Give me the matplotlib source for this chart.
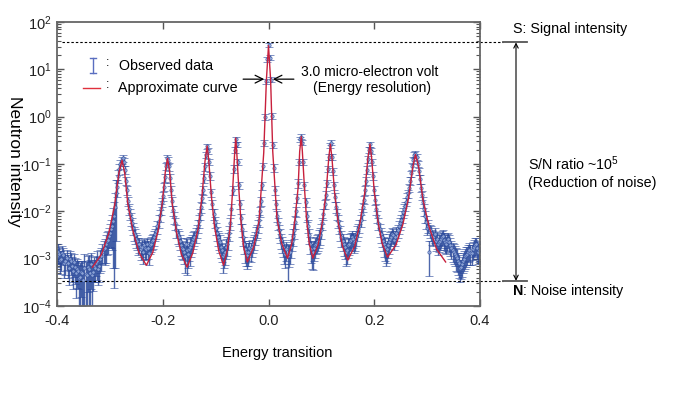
import numpy as np
import matplotlib
matplotlib.use("Agg")
import matplotlib.pyplot as plt
from matplotlib.lines import Line2D
from matplotlib.transforms import blended_transform_factory

# -----------------------------------------------------------
# Fonts / style
# -----------------------------------------------------------
plt.rcParams['font.family'] = ['Liberation Sans', 'DejaVu Sans']
plt.rcParams['mathtext.fontset'] = 'custom'
plt.rcParams['mathtext.rm'] = 'Liberation Sans'
plt.rcParams['mathtext.it'] = 'Liberation Sans:italic'
plt.rcParams['mathtext.bf'] = 'Liberation Sans:bold'
plt.rcParams['axes.unicode_minus'] = False

W, H = 682, 394

# -----------------------------------------------------------
# Data
# -----------------------------------------------------------
# energy grid of the measured spectrum (step 0.002)
energy = np.round(np.arange(-0.400, 0.4001, 0.002), 3)

# log10(neutron intensity) of observed points, 10 per row
obs_log = [
    -2.95, -2.85, -2.90, -3.02, -3.00, -2.88, -2.92, -3.10, -3.05, -2.98,
    -3.10, -3.20, -3.00, -3.05, -3.15, -3.25, -3.08, -3.18, -3.30, -3.22,
    -3.25, -3.40, -3.38, -3.28, -3.30, -3.45, -3.20, -3.32, -3.35, -3.18,
    -3.22, -3.30, -3.12, -3.35, -3.28, -3.15, -3.20, -3.10, -3.05, -3.22,
    -3.15, -3.00, -2.95, -2.85, -2.80, -2.78, -2.70, -2.62, -2.60, -2.52,
    -2.45, -2.38, -2.30, -2.20, -2.10, -1.90, -1.62, -1.48, -1.25, -1.10,
    -1.00, -0.92, -0.88, -0.95, -1.12, -1.35, -1.55, -1.78, -1.95, -2.05,
    -2.15, -2.25, -2.35, -2.45, -2.50, -2.58, -2.62, -2.70, -2.70, -2.80,
    -2.75, -2.85, -2.72, -2.78, -2.80, -2.70, -2.78, -2.88, -2.72, -2.68,
    -2.62, -2.60, -2.55, -2.48, -2.42, -2.32, -2.20, -2.08, -1.95, -1.80,
    -1.68, -1.48, -1.28, -1.05, -0.88, -0.92, -1.05, -1.30, -1.55, -1.78,
    -1.98, -2.12, -2.25, -2.40, -2.50, -2.55, -2.62, -2.72, -2.78, -2.80,
    -2.85, -2.95, -2.70, -2.82, -2.90, -2.80, -2.75, -2.70, -2.65, -2.58,
    -2.55, -2.48, -2.40, -2.30, -2.20, -2.05, -1.90, -1.72, -1.55, -1.30,
    -1.05, -0.80, -0.62, -0.72, -0.95, -1.25, -1.60, -1.85, -2.05, -2.22,
    -2.35, -2.45, -2.55, -2.60, -2.65, -2.75, -2.82, -2.95, -2.90, -2.85,
    -2.75, -2.70, -2.60, -2.45, -2.25, -1.95, -1.55, -1.10, -0.70, -0.48,
    -0.58, -0.95, -1.45, -1.85, -2.15, -2.38, -2.55, -2.68, -2.80, -2.85,
    -2.92, -2.85, -2.78, -2.82, -2.75, -2.68, -2.62, -2.55, -2.45, -2.40,
    -2.30, -2.18, -2.00, -1.78, -1.45, -1.05, -0.55, 0.00, 0.75, 1.22,
    1.52, 1.25, 0.78, 0.02, -0.60, -1.08, -1.55, -1.85, -2.10, -2.25,
    -2.40, -2.50, -2.60, -2.68, -2.75, -2.85, -2.90, -2.80, -2.95, -2.88,
    -2.85, -2.75, -2.62, -2.52, -2.40, -2.22, -2.00, -1.72, -1.40, -0.95,
    -0.48, -0.42, -0.55, -0.95, -1.45, -1.80, -2.10, -2.30, -2.50, -2.68,
    -2.80, -2.88, -2.85, -2.78, -2.72, -2.68, -2.65, -2.62, -2.55, -2.50,
    -2.40, -2.25, -2.05, -1.85, -1.65, -1.40, -1.10, -0.85, -0.60, -0.55,
    -0.85, -1.15, -1.45, -1.70, -1.90, -2.05, -2.20, -2.32, -2.45, -2.55,
    -2.62, -2.70, -2.75, -2.85, -2.82, -2.72, -2.70, -2.62, -2.60, -2.55,
    -2.58, -2.65, -2.62, -2.55, -2.45, -2.38, -2.30, -2.18, -2.05, -1.90,
    -1.75, -1.55, -1.35, -1.12, -0.90, -0.70, -0.58, -0.72, -0.95, -1.25,
    -1.55, -1.75, -1.95, -2.10, -2.25, -2.38, -2.48, -2.55, -2.62, -2.70,
    -2.75, -2.85, -2.80, -2.72, -2.65, -2.58, -2.55, -2.48, -2.50, -2.60,
    -2.55, -2.45, -2.40, -2.32, -2.25, -2.18, -2.10, -2.02, -1.95, -1.88,
    -1.80, -1.70, -1.62, -1.50, -1.35, -1.20, -1.05, -0.92, -0.80, -0.78,
    -0.85, -1.00, -1.15, -1.32, -1.50, -1.65, -1.80, -1.95, -2.10, -2.22,
    -2.35, -2.30, -2.85, -2.40, -2.45, -2.52, -2.55, -2.48, -2.62, -2.58,
    -2.70, -2.65, -2.62, -2.58, -2.55, -2.52, -2.60, -2.65, -2.68, -2.62,
    -2.58, -2.65, -2.72, -2.78, -2.82, -2.85, -2.90, -2.95, -2.98, -3.05,
    -3.10, -3.20, -3.18, -3.12, -3.05, -3.00, -2.95, -2.92, -2.90, -2.85,
    -2.82, -2.88, -2.88, -2.80, -2.75, -2.72, -2.70, -2.78, -2.85, -2.82,
    -2.80,
]

# relative (linear) error of each observed point
obs_rel_err = [
    0.40, 0.45, 0.40, 0.50, 0.45, 0.40, 0.40, 0.50, 0.50, 0.45,
    0.50, 0.55, 0.45, 0.50, 0.55, 0.60, 0.50, 0.55, 0.70, 0.60,
    0.60, 0.85, 0.90, 0.70, 0.80, 0.97, 0.95, 0.80, 0.97, 0.70,
    0.95, 0.85, 0.70, 0.97, 0.60, 0.55, 0.50, 0.45, 0.60, 0.55,
    0.55, 0.50, 0.50, 0.45, 0.50, 0.55, 0.60, 0.50, 0.50, 0.45,
    0.50, 0.60, 0.70, 0.90, 0.97, 0.95, 0.90, 0.40, 0.30, 0.25,
    0.20, 0.18, 0.15, 0.18, 0.20, 0.20, 0.20, 0.22, 0.25, 0.28,
    0.30, 0.30, 0.30, 0.32, 0.35, 0.35, 0.35, 0.40, 0.35, 0.40,
    0.40, 0.45, 0.35, 0.40, 0.40, 0.35, 0.40, 0.45, 0.35, 0.35,
    0.35, 0.35, 0.35, 0.30, 0.30, 0.30, 0.30, 0.28, 0.25, 0.22,
    0.20, 0.20, 0.20, 0.18, 0.15, 0.15, 0.20, 0.20, 0.20, 0.22,
    0.25, 0.28, 0.30, 0.32, 0.35, 0.35, 0.35, 0.40, 0.40, 0.42,
    0.45, 0.55, 0.40, 0.70, 0.50, 0.45, 0.60, 0.45, 0.40, 0.38,
    0.35, 0.35, 0.30, 0.30, 0.30, 0.28, 0.25, 0.22, 0.20, 0.20,
    0.20, 0.15, 0.12, 0.14, 0.15, 0.18, 0.20, 0.22, 0.25, 0.28,
    0.30, 0.32, 0.35, 0.38, 0.40, 0.42, 0.45, 0.55, 0.50, 0.48,
    0.45, 0.42, 0.40, 0.35, 0.30, 0.25, 0.20, 0.18, 0.15, 0.12,
    0.12, 0.15, 0.15, 0.20, 0.25, 0.30, 0.35, 0.40, 0.50, 0.50,
    0.50, 0.50, 0.45, 0.45, 0.40, 0.38, 0.35, 0.32, 0.30, 0.30,
    0.30, 0.28, 0.25, 0.22, 0.20, 0.18, 0.15, 0.14, 0.12, 0.12,
    0.10, 0.12, 0.12, 0.14, 0.15, 0.18, 0.20, 0.22, 0.25, 0.28,
    0.30, 0.32, 0.35, 0.38, 0.40, 0.45, 0.50, 0.45, 0.70, 0.50,
    0.45, 0.42, 0.40, 0.38, 0.35, 0.30, 0.25, 0.22, 0.20, 0.15,
    0.12, 0.12, 0.12, 0.15, 0.20, 0.22, 0.25, 0.30, 0.35, 0.40,
    0.50, 0.55, 0.60, 0.45, 0.45, 0.40, 0.40, 0.40, 0.40, 0.38,
    0.35, 0.30, 0.25, 0.22, 0.20, 0.18, 0.15, 0.15, 0.12, 0.12,
    0.15, 0.18, 0.20, 0.22, 0.25, 0.28, 0.30, 0.32, 0.35, 0.38,
    0.40, 0.42, 0.45, 0.50, 0.50, 0.45, 0.40, 0.40, 0.40, 0.38,
    0.35, 0.40, 0.40, 0.35, 0.35, 0.32, 0.30, 0.28, 0.25, 0.22,
    0.20, 0.20, 0.20, 0.18, 0.15, 0.15, 0.12, 0.14, 0.15, 0.18,
    0.20, 0.22, 0.25, 0.28, 0.30, 0.32, 0.35, 0.38, 0.40, 0.45,
    0.50, 0.50, 0.50, 0.45, 0.45, 0.40, 0.35, 0.35, 0.35, 0.40,
    0.35, 0.32, 0.30, 0.30, 0.30, 0.28, 0.28, 0.25, 0.25, 0.22,
    0.20, 0.20, 0.20, 0.18, 0.18, 0.15, 0.15, 0.15, 0.15, 0.15,
    0.15, 0.15, 0.18, 0.20, 0.20, 0.22, 0.25, 0.28, 0.30, 0.30,
    0.30, 0.30, 0.70, 0.32, 0.35, 0.35, 0.35, 0.35, 0.40, 0.38,
    0.40, 0.38, 0.35, 0.35, 0.35, 0.35, 0.38, 0.40, 0.40, 0.38,
    0.35, 0.38, 0.40, 0.42, 0.45, 0.45, 0.45, 0.50, 0.50, 0.50,
    0.50, 0.48, 0.45, 0.45, 0.45, 0.45, 0.45, 0.45, 0.42, 0.40,
    0.40, 0.45, 0.45, 0.40, 0.40, 0.40, 0.40, 0.42, 0.45, 0.45,
    0.45,
]

# approximate (fitted) curve vertices
fit_energy = [
    -0.333, -0.316, -0.302, -0.291, -0.283, -0.277, -0.272, -0.266, -0.256, -0.245, -0.231,
    -0.219, -0.209, -0.201, -0.195, -0.191, -0.187, -0.182, -0.174, -0.165, -0.154,
    -0.143, -0.133, -0.126, -0.120, -0.116, -0.113, -0.108, -0.102, -0.094, -0.085,
    -0.078, -0.072, -0.068, -0.064, -0.062, -0.060, -0.056, -0.052, -0.047, -0.040,
    -0.028, -0.018, -0.009, -0.004, 0.000, 0.004, 0.008, 0.016, 0.025, 0.036,
    0.044, 0.050, 0.056, 0.059, 0.062, 0.064, 0.068, 0.072, 0.077, 0.084,
    0.094, 0.102, 0.109, 0.114, 0.117, 0.120, 0.125, 0.132, 0.140, 0.150,
    0.163, 0.173, 0.182, 0.188, 0.192, 0.195, 0.200, 0.207, 0.215, 0.225,
    0.241, 0.254, 0.265, 0.273, 0.278, 0.284, 0.292, 0.304, 0.318, 0.335,
]
fit_log = [
    -3.18, -2.91, -2.46, -1.87, -1.19, -0.92, -1.19, -1.85, -2.43, -2.87, -3.14,
    -2.87, -2.42, -1.83, -1.15, -0.88, -1.16, -1.85, -2.44, -2.90, -3.18,
    -2.87, -2.36, -1.70, -0.93, -0.62, -0.92, -1.68, -2.33, -2.84, -3.14,
    -2.82, -2.28, -1.58, -0.77, -0.45, -0.76, -1.55, -2.23, -2.76, -3.07,
    -2.75, -2.21, -0.76, 0.77, 1.50, 0.78, -0.73, -2.15, -2.68, -2.99,
    -2.68, -2.17, -1.50, -0.73, -0.42, -0.73, -1.50, -2.17, -2.68, -2.99,
    -2.70, -2.22, -1.59, -0.87, -0.58, -0.87, -1.61, -2.25, -2.74, -3.03,
    -2.74, -2.25, -1.61, -0.87, -0.58, -0.87, -1.58, -2.21, -2.68, -2.97,
    -2.71, -2.28, -1.71, -1.06, -0.80, -1.07, -1.75, -2.34, -2.80, -3.07,
]

signal_level = 37.0      # S
noise_level = 3.4e-4     # N
resolution_hw = 0.008    # half width marked by the arrows
resolution_y = 6.2

x_ticks = [-0.4, -0.2, 0.0, 0.2, 0.4]
x_ticklabels = ['-0.4', '-0.2', '0.0', '0.2', '0.4']

# -----------------------------------------------------------
# Derived arrays
# -----------------------------------------------------------
obs_y = 10.0 ** np.array(obs_log)
obs_err = np.array(obs_rel_err) * obs_y
fit_y = 10.0 ** np.array(fit_log)

BLUE = '#28479a'
RED = '#c8203c'


def fx(px):
    return px / W


def fy(py):
    return 1 - py / H


# -----------------------------------------------------------
# Figure
# -----------------------------------------------------------
fig = plt.figure(figsize=(W / 100, H / 100), dpi=100)
ax = fig.add_axes([fx(57), fy(306), (480 - 57) / W, (306 - 22) / H])
ax.set_yscale('log')

ax.errorbar(energy, obs_y, yerr=obs_err, fmt='o', ms=2.4, color=BLUE,
            mfc='#9fb4e0', mec=BLUE, mew=0.5, elinewidth=1.0,
            ecolor=BLUE, capsize=3.0, capthick=1.0, alpha=0.82, zorder=2)
ax.plot(fit_energy, fit_y, color=RED, lw=1.0, zorder=3)

ax.set_xlim(-0.4, 0.4)
ax.set_ylim(1e-4, 1e2)
ax.set_xticks(x_ticks)
ax.set_xticklabels(x_ticklabels)
ax.tick_params(which='both', direction='in', top=True, right=True,
               colors='#555555', labelcolor='#222222', labelsize=10.5)
ax.tick_params(which='major', length=5, width=1)
ax.tick_params(which='minor', length=3, width=0.8)
ax.tick_params(axis='x', pad=6)
ax.tick_params(axis='y', pad=4)
ax.xaxis.set_minor_locator(plt.NullLocator())
for sp in ax.spines.values():
    sp.set_color('#666666')
    sp.set_linewidth(1.3)

fig.text(fx(277), fy(353), 'Energy transition', fontsize=10.5,
         ha='center', va='center')
fig.text(fx(14), fy(161), 'Neutron intensity', fontsize=12.5,
         rotation=-90, ha='center', va='center')

# S / N guide lines
trans = blended_transform_factory(fig.transFigure, ax.transData)
for lvl in (signal_level, noise_level):
    ax.plot([fx(62), fx(503)], [lvl, lvl], transform=trans, clip_on=False,
            color='k', lw=0.8, ls=(0, (2.2, 1.8)))
    ax.plot([fx(503), fx(527)], [lvl, lvl], transform=trans, clip_on=False,
            color='#555555', lw=1.3)
ax.annotate('', xy=(fx(516), noise_level), xytext=(fx(516), signal_level),
            xycoords=trans, textcoords=trans,
            arrowprops=dict(arrowstyle='<->', lw=0.8, color='k',
                            mutation_scale=8, shrinkA=0, shrinkB=0))

fig.text(fx(513), fy(29), 'S: Signal intensity', fontsize=10.3, va='center')
fig.text(fx(528), fy(164), r'S/N ratio ~10$^5$', fontsize=10.3, va='center')
fig.text(fx(528), fy(183), '(Reduction of noise)', fontsize=10.3, va='center')
fig.text(fx(512), fy(291), r'$\mathbf{N}$: Noise intensity', fontsize=10.3,
         va='center')

# energy resolution arrows
ax.annotate('', xy=(-resolution_hw, resolution_y), xytext=(-0.048, resolution_y),
            arrowprops=dict(arrowstyle='->', lw=0.9, color='k',
                            mutation_scale=14, shrinkA=0, shrinkB=0))
ax.annotate('', xy=(resolution_hw, resolution_y), xytext=(0.048, resolution_y),
            arrowprops=dict(arrowstyle='->', lw=0.9, color='k',
                            mutation_scale=14, shrinkA=0, shrinkB=0))
fig.text(fx(370), fy(72), '3.0 micro-electron volt', fontsize=10,
         ha='center', va='center')
fig.text(fx(372), fy(88), '(Energy resolution)', fontsize=10,
         ha='center', va='center')

# hand-made legend
fig.add_artist(Line2D([fx(93), fx(93)], [fy(58), fy(73)], color='#5a6ec0', lw=1))
fig.add_artist(Line2D([fx(90), fx(96)], [fy(58), fy(58)], color='#5a6ec0', lw=1))
fig.add_artist(Line2D([fx(90), fx(96)], [fy(73), fy(73)], color='#5a6ec0', lw=1))
fig.add_artist(Line2D([fx(83), fx(100)], [fy(88), fy(88)], color='#e0303c', lw=1))
fig.text(fx(106), fy(63), ':', fontsize=9, va='center')
fig.text(fx(106), fy(85), ':', fontsize=9, va='center')
fig.text(fx(119), fy(66), 'Observed data', fontsize=10.3, va='center')
fig.text(fx(118), fy(88), 'Approximate curve', fontsize=10.3, va='center')

fig.savefig('out.png', dpi=100)
